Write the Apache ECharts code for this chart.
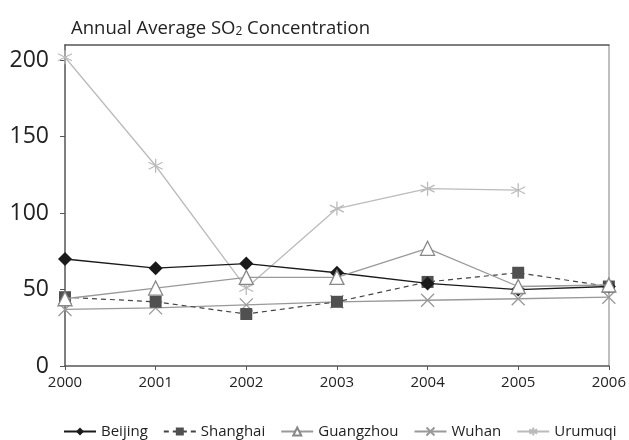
<!DOCTYPE html>
<html><head><meta charset="utf-8">
<script src="https://cdn.jsdelivr.net/npm/echarts@6/dist/echarts.min.js"></script>
<style>html,body{margin:0;padding:0;background:#fff}#c{width:629px;height:440px}</style>
</head><body><div id="c"></div>
<script>
const years = ['2000','2001','2002','2003','2004','2005','2006'];
const beijing   = [70, 64, 67, 61, 54, 50, 52];
const shanghai  = [45, 42, 34, 42, 55, 61, 52];
const guangzhou = [44, 51, 58, 58, 77, 52, 53];
const wuhan     = [37, 38, 40, 42, 43, 44, 45];
const urumuqi   = [202, 131, 51, 103, 116, 115, null];
const yTicks = [0, 50, 100, 150, 200];

const font = 'Open Sans';
const X_PATH = 'path://M0,0 L10,10 M0,10 L10,0';
const STAR_PATH = 'path://M5,0 L5,10 M0.67,2.5 L9.33,7.5 M0.67,7.5 L9.33,2.5';

const chart = echarts.init(document.getElementById('c'));
chart.setOption({
  animation: false,
  textStyle: {fontFamily: font},
  title: {
    text: '{a|Annual Average SO}{s|2}{a| Concentration}',
    left: 66, top: 7,
    textStyle: {
      fontWeight: 'normal',
      rich: {
        a: {fontFamily: font, fontSize: 18.5, fontWeight: 'normal', color: '#222', verticalAlign: 'bottom', lineHeight: 26},
        s: {fontFamily: font, fontSize: 12, fontWeight: 'normal', color: '#222', verticalAlign: 'bottom', lineHeight: 16}
      }
    }
  },
  grid: {left: 65, right: 8, top: 45, bottom: 74},
  legend: {
    bottom: -4, left: 58,
    itemWidth: 32, itemHeight: 10, itemGap: 15,
    textStyle: {fontFamily: font, fontSize: 15, color: '#222'},
    data: ['Beijing','Shanghai','Guangzhou','Wuhan','Urumuqi']
  },
  xAxis: [{
    type: 'category', data: years, boundaryGap: false,
    axisLine: {lineStyle: {color: '#555', width: 1.5}},
    axisTick: {show: true, length: 4, lineStyle: {color: '#555'}},
    axisLabel: {fontFamily: font, fontSize: 15, color: '#222', margin: 9},
    splitLine: {show: false}
  }, {
    type: 'category', data: years, boundaryGap: false, position: 'top',
    axisLine: {show: true, onZero: false, lineStyle: {color: '#555', width: 1.5}},
    axisTick: {show: false}, axisLabel: {show: false}, splitLine: {show: false}
  }],
  yAxis: [{
    type: 'value', min: 0, max: 210, interval: 50,
    axisLine: {show: true, onZero: false, lineStyle: {color: '#555', width: 1.5}},
    axisTick: {show: true, length: 5, lineStyle: {color: '#555'}, customValues: yTicks},
    axisLabel: {fontFamily: font, fontSize: 23, color: '#222', margin: 16, customValues: yTicks},
    splitLine: {show: false}
  }, {
    type: 'value', min: 0, max: 210, position: 'right',
    axisLine: {show: true, onZero: false, lineStyle: {color: '#aaa', width: 1.5}},
    axisTick: {show: false}, axisLabel: {show: false}, splitLine: {show: false}
  }],
  series: [
    {name: 'Beijing', type: 'line', data: beijing, symbol: 'diamond', symbolSize: 14,
     itemStyle: {color: '#1a1a1a'}, lineStyle: {color: '#1a1a1a', width: 1.3}, z: 5},
    {name: 'Shanghai', type: 'line', data: shanghai, symbol: 'rect', symbolSize: 12,
     itemStyle: {color: '#505050'}, lineStyle: {color: '#444', width: 1.2, type: [5, 4]}, z: 4},
    {name: 'Guangzhou', type: 'line', data: guangzhou, symbol: 'triangle', symbolSize: 14,
     itemStyle: {color: '#fff', borderColor: '#888', borderWidth: 1.3},
     lineStyle: {color: '#999', width: 1.3}, z: 6},
    {name: 'Wuhan', type: 'line', data: wuhan, symbol: X_PATH, symbolSize: 13,
     itemStyle: {color: 'rgba(0,0,0,0)', borderColor: '#999', borderWidth: 1.3},
     lineStyle: {color: '#999', width: 1.3}, z: 3},
    {name: 'Urumuqi', type: 'line', data: urumuqi, symbol: STAR_PATH, symbolSize: 14,
     itemStyle: {color: 'rgba(0,0,0,0)', borderColor: '#bbb', borderWidth: 1.3},
     lineStyle: {color: '#bbb', width: 1.3}, z: 2}
  ]
});
</script>
</body></html>
